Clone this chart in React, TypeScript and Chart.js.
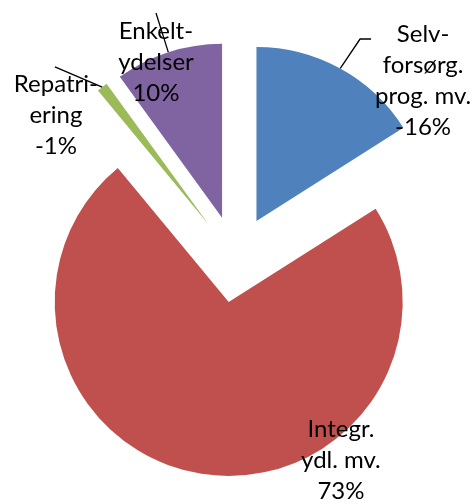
import React, { useEffect, useRef } from "react";
import { Chart, registerables } from "chart.js";

Chart.register(...registerables);

// ---- data ----
const categories: string[][] = [
  ["Selv-", "forsørg.", "prog. mv."],
  ["Integr.", "ydl. mv."],
  ["Repatri-", "ering"],
  ["Enkelt-", "ydelser"],
];
const values: number[] = [-16, 73, -1, 10];
const colors: string[] = ["#4F81BD", "#C0504D", "#9BBB59", "#8064A2"];

// ---- layout (kept apart from the data) ----
const RADIUS = 174;
const EXPLODE = 43.5; // distance each slice is pulled out from the centre
const LINE_H = 31;
const FONT = "24px Lato";
// label anchor (first baseline, centred) relative to the pie centre, in radius units
const labelPosX: number[] = [1.078, 0.606, -1.032, -0.457];
const labelPosY: number[] = [-1.247, 1.023, -0.96, -1.264];
// leader line points relative to label anchor (px); empty = none
const leaders: number[][][] = [
  [
    [-63, -3],
    [-52, -3],
  ],
  [],
  [[-1, -25]],
  [[0, -26]],
];

// explode every slice: move each arc's centre outward along its mid-angle
const explodePlugin = {
  id: "explode",
  afterDatasetsUpdate(chart: any) {
    const meta = chart.getDatasetMeta(0);
    meta.data.forEach((el: any) => {
      const mid = (el.startAngle + el.endAngle) / 2;
      el.$cx = el.x;
      el.$cy = el.y;
      el.x = el.x + Math.cos(mid) * EXPLODE;
      el.y = el.y + Math.sin(mid) * EXPLODE;
    });
  },
};

const labelsPlugin = {
  id: "pieLabels",
  afterDatasetsDraw(chart: any) {
    const ctx: CanvasRenderingContext2D = chart.ctx;
    const meta = chart.getDatasetMeta(0);
    const total = values.reduce((s, v) => s + Math.abs(v), 0);
    ctx.save();
    ctx.font = FONT;
    ctx.fillStyle = "#000";
    ctx.textAlign = "center";
    ctx.textBaseline = "alphabetic";
    ctx.strokeStyle = "#000";
    ctx.lineWidth = 1.3;
    meta.data.forEach((el: any, i: number) => {
      const cx = el.$cx;
      const cy = el.$cy;
      const ax = cx + labelPosX[i] * RADIUS;
      const ay = cy + labelPosY[i] * RADIUS;
      const mid = (el.startAngle + el.endAngle) / 2;
      const lines = [...categories[i], Math.round((values[i] / total) * 100) + "%"];
      lines.forEach((t, j) => ctx.fillText(t, ax, ay + j * LINE_H));
      const pts = leaders[i];
      if (pts.length) {
        const sx = el.x + Math.cos(mid) * el.outerRadius;
        const sy = el.y + Math.sin(mid) * el.outerRadius;
        ctx.beginPath();
        ctx.moveTo(sx, sy);
        pts.forEach(([px, py]) => ctx.lineTo(ax + px, ay + py));
        ctx.stroke();
      }
    });
    ctx.restore();
  },
};

export default function App() {
  const ref = useRef<HTMLCanvasElement | null>(null);
  useEffect(() => {
    if (!ref.current) return;
    const chart = new Chart(ref.current, {
      type: "pie",
      data: {
        labels: categories.map((c) => c.join(" ")),
        datasets: [
          {
            data: values,
            backgroundColor: colors,
            borderWidth: 0,
            hoverOffset: 0,
            radius: RADIUS,
          } as any,
        ],
      },
      options: {
        animation: false,
        responsive: false,
        devicePixelRatio: 1,
        layout: { padding: { left: 0, right: 4, top: 14, bottom: 0 } },
        plugins: {
          legend: { display: false },
          tooltip: { enabled: false },
        },
        events: [],
      } as any,
      plugins: [explodePlugin, labelsPlugin],
    });
    return () => chart.destroy();
  }, []);
  return (
    <div style={{ position: "absolute", left: 0, top: 0, width: 475, height: 504 }}>
      <canvas ref={ref} width={475} height={504} style={{ display: "block" }} />
    </div>
  );
}
